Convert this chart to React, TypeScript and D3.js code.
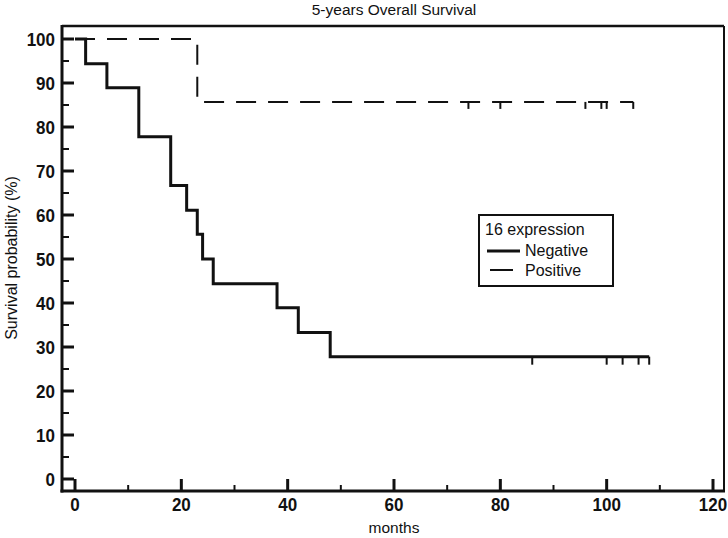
import React from "react";
import * as d3 from "d3";

const negTimes = [0, 2, 6, 12, 18, 21, 23, 24, 26, 38, 42, 48, 108];
const negSurv = [100, 94.4, 88.9, 77.8, 66.7, 61.1, 55.6, 50, 44.4, 38.9, 33.3, 27.8, 27.8];
const negCensored = [86, 100, 103, 106, 108];

const posTimes = [0, 23, 105];
const posSurv = [100, 85.7, 85.7];
const posCensored = [74, 80, 96, 99, 100, 105];

const xMajor = [0, 20, 40, 60, 80, 100, 120];
const xMinor = [10, 30, 50, 70, 90, 110];
const yMajor = [0, 10, 20, 30, 40, 50, 60, 70, 80, 90, 100];
const yMinor = [5, 15, 25, 35, 45, 55, 65, 75, 85, 95];

const W = 728, H = 538;
const FONT = "'Liberation Sans', Arial, sans-serif";

export default function App() {
  const x = d3.scaleLinear().domain([0, 120]).range([75, 713]);
  const y = d3.scaleLinear().domain([0, 100]).range([479, 39]);
  const left = 62, right = 724, top = 26, bottom = 491;

  const line = d3
    .line<[number, number]>()
    .x((d) => x(d[0]))
    .y((d) => y(d[1]))
    .curve(d3.curveStepAfter);

  const negData: [number, number][] = negTimes.map((t, i) => [t, negSurv[i]]);
  const posData: [number, number][] = posTimes.map((t, i) => [t, posSurv[i]]);
  const negLast = negSurv[negSurv.length - 1];
  const posLast = posSurv[posSurv.length - 1];

  return (
    <svg
      width={W}
      height={H}
      style={{ position: "absolute", left: 0, top: 0, background: "#fff" }}
    >
      <rect x={0} y={0} width={W} height={H} fill="#fff" />
      {/* title */}
      <text x={394} y={15} textAnchor="middle" fontFamily={FONT} fontSize={15.5} fill="#111">
        5-years Overall Survival
      </text>
      {/* frame */}
      <line x1={left} x2={right} y1={top} y2={top} stroke="#111" strokeWidth={2.5} />
      <line x1={right} x2={right} y1={top} y2={bottom} stroke="#111" strokeWidth={2} />
      <line x1={left} x2={left} y1={top - 1} y2={bottom + 1.5} stroke="#111" strokeWidth={3} />
      <line x1={left - 1.5} x2={right + 1} y1={bottom} y2={bottom} stroke="#111" strokeWidth={3} />
      {/* y ticks */}
      {yMajor.map((v) => (
        <g key={"ym" + v}>
          <line x1={left} x2={left + 12} y1={y(v)} y2={y(v)} stroke="#111" strokeWidth={3} />
          <text
            transform={`translate(55,${y(v)}) scale(1,1.1)`}
            dy="0.36em"
            textAnchor="end"
            fontFamily={FONT}
            fontWeight="bold"
            fontSize={17}
            fill="#111"
          >
            {v}
          </text>
        </g>
      ))}
      {yMinor.map((v) => (
        <line key={"yn" + v} x1={left} x2={left + 7} y1={y(v)} y2={y(v)} stroke="#111" strokeWidth={2} />
      ))}
      {/* x ticks */}
      {xMajor.map((v) => (
        <g key={"xm" + v}>
          <line x1={x(v)} x2={x(v)} y1={bottom} y2={bottom - 12} stroke="#111" strokeWidth={3} />
          <text
            transform={`translate(${x(v)},511) scale(1,1.1)`}
            textAnchor="middle"
            fontFamily={FONT}
            fontWeight="bold"
            fontSize={17}
            fill="#111"
          >
            {v}
          </text>
        </g>
      ))}
      {xMinor.map((v) => (
        <line key={"xn" + v} x1={x(v)} x2={x(v)} y1={bottom} y2={bottom - 6} stroke="#111" strokeWidth={2} />
      ))}
      {/* axis titles */}
      <text x={394} y={533} textAnchor="middle" fontFamily={FONT} fontSize={15.5} fill="#111">
        months
      </text>
      <text
        transform={`translate(17,258) rotate(-90)`}
        textAnchor="middle"
        fontFamily={FONT}
        fontSize={16}
        fill="#111"
      >
        Survival probability (%)
      </text>
      {/* curves */}
      <path d={line(posData) || ""} fill="none" stroke="#111" strokeWidth={2} strokeDasharray="20,12" />
      {posCensored.map((t) => (
        <line key={"pc" + t} x1={x(t)} x2={x(t)} y1={y(posLast)} y2={y(posLast) + 7} stroke="#111" strokeWidth={2} />
      ))}
      <path d={line(negData) || ""} fill="none" stroke="#111" strokeWidth={3} />
      {negCensored.map((t) => (
        <line key={"nc" + t} x1={x(t)} x2={x(t)} y1={y(negLast)} y2={y(negLast) + 8} stroke="#111" strokeWidth={2} />
      ))}
      {/* legend */}
      <rect x={479} y={215} width={134} height={71} fill="#fff" stroke="#111" strokeWidth={2} />
      <text x={485} y={235} fontFamily={FONT} fontSize={16} fill="#111">
        16 expression
      </text>
      <line x1={487} x2={520} y1={251} y2={251} stroke="#111" strokeWidth={3} />
      <text x={525} y={256} fontFamily={FONT} fontSize={16} fill="#111">
        Negative
      </text>
      <line x1={490} x2={513} y1={270} y2={270} stroke="#111" strokeWidth={2} />
      <text x={525} y={276} fontFamily={FONT} fontSize={16} fill="#111">
        Positive
      </text>
    </svg>
  );
}
